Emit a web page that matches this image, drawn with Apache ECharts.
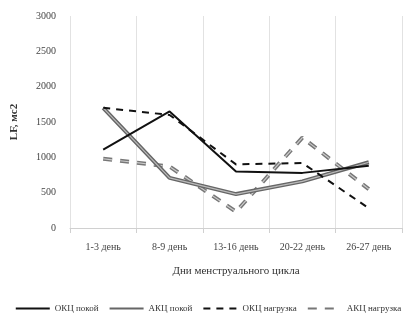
<!DOCTYPE html>
<html><head><meta charset="utf-8">
<script src="https://cdn.jsdelivr.net/npm/echarts@6/dist/echarts.min.js"></script>
<style>html,body{margin:0;padding:0;background:#fff}#c{width:416px;height:322px}</style>
</head><body><div id="c"></div>
<script>
const categories = ["1-3 день", "8-9 день", "13-16 день", "20-22 день", "26-27 день"];
const okcRest = [1110, 1650, 800, 780, 880];
const akcRest = [1700, 710, 480, 660, 930];
const okcLoad = [1700, 1600, 900, 920, 280];
const akcLoad = [980, 870, 230, 1280, 550];
const yTicks = [0, 500, 1000, 1500, 2000, 2500, 3000];
const names = ["ОКЦ покой", "АКЦ покой", "ОКЦ нагрузка", "АКЦ нагрузка"];
const font = "Liberation Serif";
const chart = echarts.init(document.getElementById('c'), null, {renderer: 'canvas'});
function s(name, data, color, width, type, z) {
  return {name: name, type: 'line', data: data, symbol: 'none', z: z,
    lineStyle: {color: color, width: width, type: type}, itemStyle: {color: color}, animation: false};
}
chart.setOption({
  animation: false,
  grid: {left: 70, right: 14, top: 16, bottom: 94},
  legend: {data: names, bottom: 4, left: 'center', itemWidth: 34, itemHeight: 8, itemGap: 10,
    itemStyle: {opacity: 0},
    textStyle: {fontFamily: font, fontSize: 9, color: '#333'}},
  xAxis: {type: 'category', data: categories, boundaryGap: true,
    axisLine: {lineStyle: {color: '#d0d0d0'}}, axisTick: {show: true, lineStyle: {color: '#d0d0d0'}},
    splitLine: {show: true, lineStyle: {color: '#e2e2e2'}},
    axisLabel: {fontFamily: font, fontSize: 10, color: '#444', margin: 14},
    name: 'Дни менструального цикла', nameLocation: 'middle', nameGap: 38,
    nameTextStyle: {fontFamily: font, fontSize: 11, color: '#333'}},
  yAxis: {type: 'value', min: yTicks[0], max: yTicks[yTicks.length-1], interval: 500,
    axisLine: {show: false}, axisTick: {show: false}, splitLine: {show: false},
    axisLabel: {fontFamily: font, fontSize: 10, color: '#444', margin: 14, formatter: v => String(v)},
    name: 'LF, мс2', nameLocation: 'middle', nameGap: 50, nameRotate: 90,
    nameTextStyle: {fontFamily: font, fontSize: 11, fontWeight: 'bold', color: '#333'}},
  series: [
    s(names[0], okcRest, '#111', 2, 'solid', 5),
    s(names[1], akcRest, '#666', 4, 'solid', 3),
    s(names[2], okcLoad, '#111', 2, [7, 6], 4),
    s(names[3], akcLoad, '#777', 4, [9, 8], 2),
    {name: 'inner1', type: 'line', data: akcRest, symbol: 'none', z: 3.5, silent: true,
      lineStyle: {color: '#bbb', width: 1.2}, animation: false},
    {name: 'inner2', type: 'line', data: akcLoad, symbol: 'none', z: 2.5, silent: true,
      lineStyle: {color: '#ccc', width: 1.2, type: [9, 8]}, animation: false}
  ]
});
</script></body></html>
